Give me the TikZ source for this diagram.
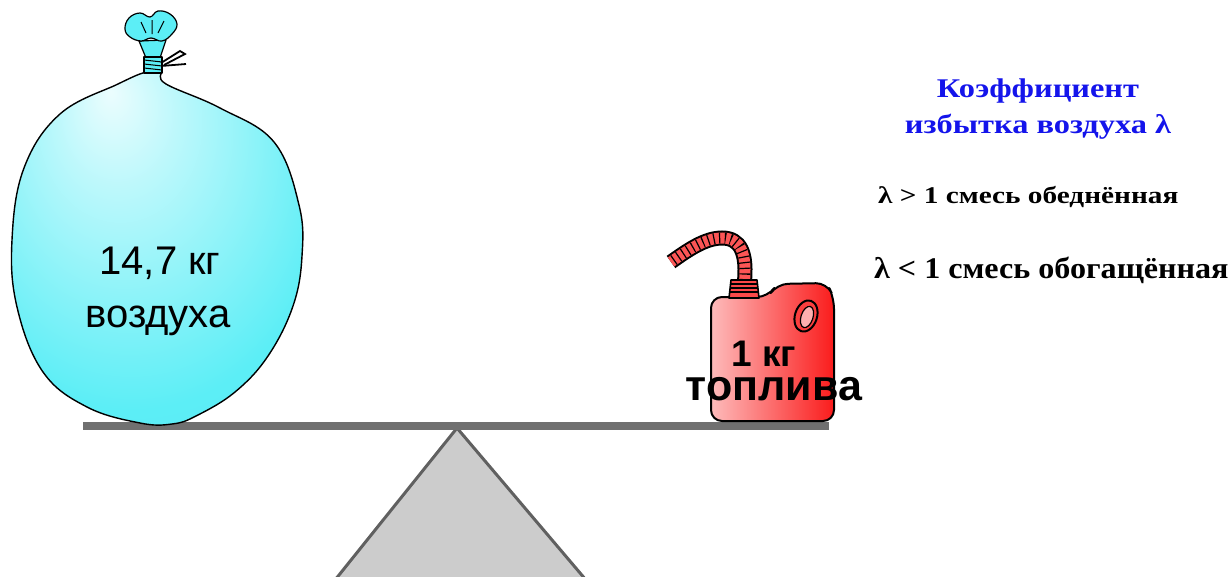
\documentclass[tikz,border=0pt]{standalone}
\usepackage{fontspec}
\setmainfont{Liberation Serif}
\newfontfamily\labelfont{Liberation Sans}
\usetikzlibrary{positioning}

\definecolor{airblue}{RGB}{92,238,246}
\definecolor{fuelred}{RGB}{250,28,28}
\definecolor{beamgray}{RGB}{112,112,112}
\definecolor{pivotgray}{RGB}{204,204,204}
\definecolor{edgegray}{RGB}{96,96,96}
\definecolor{headblue}{RGB}{20,20,235}

% soft light spot on the balloon, a bit up and to the left
\pgfdeclareradialshading{airglow}{\pgfpoint{-8bp}{22bp}}{%
  color(0bp)=(white!88!airblue); color(10bp)=(white!60!airblue);
  color(34bp)=(airblue); color(70bp)=(airblue!92!blue)}

\tikzset{
  outline/.style={draw=black, line width=1.4pt, line join=round},
  masslabel/.style={font=\labelfont\fontsize{40}{40}\selectfont, anchor=base, inner sep=0pt},
  fuellabel/.style={font=\labelfont\bfseries, anchor=base, inner sep=0pt},
  rulelabel/.style={font=\bfseries, anchor=base west, inner sep=0pt},
  headlabel/.style={font=\bfseries\fontsize{27}{27}\selectfont\addfontfeature{FakeStretch=1.2},
    text=headblue, anchor=base, inner sep=0pt}
}

\begin{document}
\begin{tikzpicture}[x=1pt, y=-1pt]

  \useasboundingbox (0,0) rectangle (1228,576);

  % ---- fulcrum and beam ----
  \draw[fill=pivotgray, draw=edgegray, line width=3pt, line join=round]
    (335,580) -- (457,428) -- (586,580);
  \fill[beamgray] (83,422) rectangle (829,430);

  % ---- balloon with air ----
  \shade[shading=airglow, outline] plot[smooth cycle, tension=0.65] coordinates {
    (146,72) (118,84) (60,114) (24,168) (12,240) (17,307) (43,372)
    (87,407) (140,423) (172,424) (196,416) (235,392) (268,356)
    (293,306) (302,256) (299,205) (274,142) (220,108) (166,84) (160,72)};

  % knot: flared top, wrapped band, loose string
  \draw[outline, fill=airblue, line width=1.2pt] (139,41) -- (146,58) -- (160,58) -- (166,40) -- cycle;
  \draw[outline, fill=airblue, line width=1.2pt] plot[smooth cycle, tension=0.7] coordinates {
    (125,29) (129,18) (140,13) (150,17) (158,11) (170,14) (177,24)
    (172,34) (162,41) (151,38) (141,41) (130,37)};
  \draw[line width=1pt] (141,22) -- (146,33) (152,20) -- (152,34) (164,21) -- (158,33);
  \draw[outline, fill=airblue, line width=1.2pt] (144,57) rectangle (162,73);
  \foreach \y in {60,64,68} {
    \draw[line width=1pt] (144,\y) -- (162,\y+2);
  }
  \draw[line width=1.8pt] (161,63) -- (180,51) -- (185,54) -- (164,65);
  \draw[line width=1.8pt] (161,66) -- (186,64);

  \node[masslabel] (airmass) at (160,274) {14,7 кг};
  \node[masslabel] (airname) at (158,327) {воздуха};

  % ---- fuel canister ----
  % ribbed hose first, the collar covers its lower end
  \draw[line width=15pt] (744,286) .. controls (748,252) and (740,238) .. (722,238)
    .. controls (705,238) and (688,250) .. (671,262);
  \draw[fuelred!75!white, line width=11pt] (744,286) .. controls (748,252) and (740,238) .. (722,238)
    .. controls (705,238) and (688,250) .. (671,262);
  \draw[line width=11pt, dash pattern=on 1.2pt off 4.5pt] (744,286) .. controls (748,252) and (740,238) .. (722,238)
    .. controls (705,238) and (688,250) .. (671,262);

  \shade[left color=fuelred!30!white, right color=fuelred, outline, line width=2pt, rounded corners=11pt]
    (711,421) -- (711,297) -- (768,297) -- (777,284) -- (827,283) -- (834,298) -- (834,421) -- cycle;
  % handle hole
  \draw[outline, line width=2pt, fill=fuelred!85!white, rotate around={-18:(806,316)}]
    (806,316) ellipse (11pt and 16pt);
  \draw[outline, line width=1.2pt, fill=fuelred!35!white, rotate around={-18:(807,317)}]
    (807,317) ellipse (6pt and 11pt);
  % threaded collar
  \draw[outline, line width=1.6pt, fill=fuelred!80!white] (729,298) -- (731,280) -- (757,280) -- (759,298) -- cycle;
  \foreach \y in {284,288,292} {
    \draw[line width=1.2pt] (730,\y) -- (758,\y);
  }

  \node[fuellabel, font=\labelfont\bfseries\fontsize{37}{37}\selectfont] (fuelmass) at (764,366) {1 кг};
  \node[fuellabel, font=\labelfont\bfseries\fontsize{43}{43}\selectfont] (fuelname) at (774,400) {топлива};

  % ---- excess air ratio ----
  \node[headlabel] (headtop) at (1038,97) {Коэффициент};
  \node[headlabel] (headbot) at (1038,133) {избытка воздуха λ};
  \node[rulelabel, font=\bfseries\fontsize{24}{24}\selectfont\addfontfeature{FakeStretch=1.22}]
    (leanmix) at (878,203) {λ > 1 смесь обеднённая};
  \node[rulelabel, font=\bfseries\fontsize{30}{30}\selectfont\addfontfeature{FakeStretch=1.07}]
    (richmix) at (874,278) {λ < 1 смесь обогащённая};

\end{tikzpicture}
\end{document}
